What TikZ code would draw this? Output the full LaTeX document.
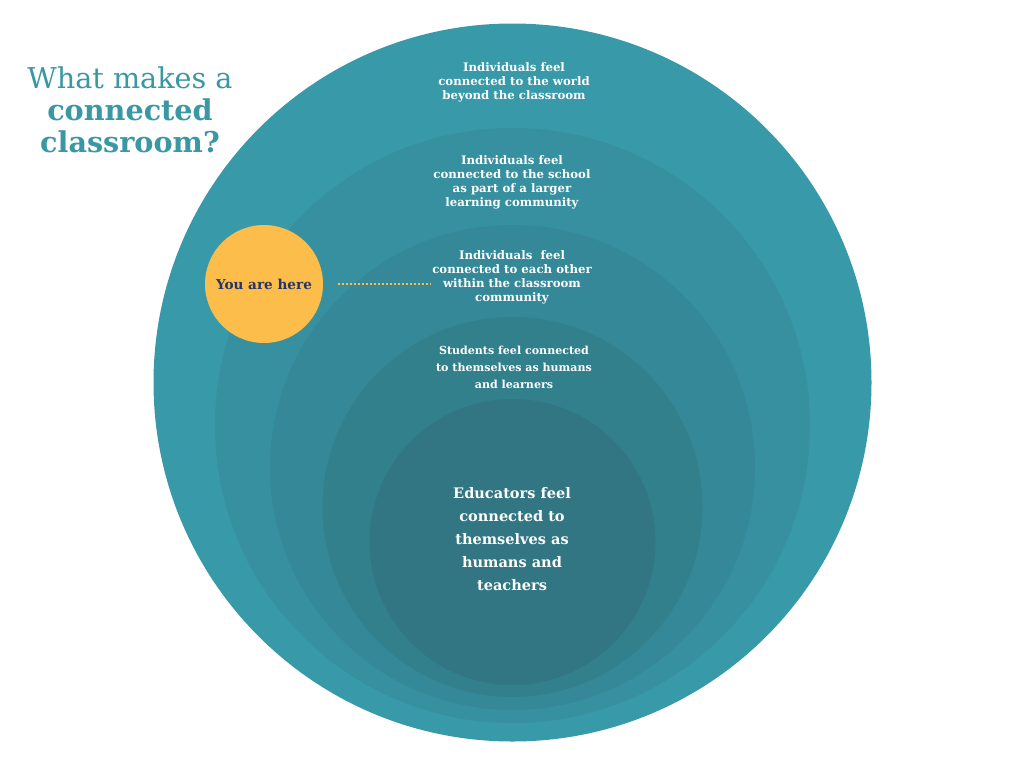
\documentclass[tikz,border=0pt]{standalone}
\usepackage{fontspec}
\setmainfont{DejaVu Serif}
\usepackage{xcolor}
\usepackage{tikz}
\usetikzlibrary{positioning, calc}
\definecolor{RingOne}{HTML}{3899A9}
\definecolor{RingTwo}{HTML}{3690A0}
\definecolor{RingThree}{HTML}{348897}
\definecolor{RingFour}{HTML}{33808D}
\definecolor{RingFive}{HTML}{317682}
\definecolor{HereYellow}{HTML}{FDBD4A}
\definecolor{HereNavy}{HTML}{24356A}
\definecolor{TitleTeal}{HTML}{3A97A4}

\begin{document}
\begin{tikzpicture}[
  x=0.75pt, y=-0.75pt,
  ringtext/.style={text=white, align=center, font=\bfseries\fontsize{8.8pt}{10.5pt}\selectfont, inner sep=0pt},
  bigtext/.style={text=white, align=center, font=\bfseries\fontsize{10.9pt}{17.25pt}\selectfont, inner sep=0pt},
  herebox/.style={circle, fill=HereYellow, minimum size=88.5pt, inner sep=0pt, text=HereNavy, font=\bfseries\fontsize{10.2pt}{12pt}\selectfont},
  dotline/.style={HereYellow, line width=1.3pt, dash pattern=on 1.4pt off 1.6pt}
  ]
  \useasboundingbox (0,0) rectangle (1024,768);
  \fill[white] (0,0) rectangle (1024,768);
  % Rings
  \fill[RingOne] (512.5,382.5) circle (359);
  \fill[RingTwo] (512.5,425.5) circle (297.5);
  \fill[RingThree] (512.5,467.5) circle (242.5);
  \fill[RingFour] (512.5,507) circle (190);
  \fill[RingFive] (512.5,542) circle (143);
  % Title
  \node[align=center, text=TitleTeal, font=\fontsize{21.5pt}{24pt}\selectfont] (title) at (130,110)
    {What makes a\\\textbf{connected}\\\textbf{classroom?}};
  % Ring labels
  \node[ringtext] (world) at (514,82) {Individuals feel\\connected to the world\\beyond the classroom};
  \node[ringtext] (school) at (512,182) {Individuals feel\\connected to the school\\as part of a larger\\learning community};
  \node[ringtext] (others) at (512,277) {Individuals\ \ feel\\connected to each other\\within the classroom\\community};
  \node[ringtext, font=\bfseries\fontsize{8.3pt}{12.75pt}\selectfont] (students) at (514,367) {Students feel connected\\to themselves as humans\\and learners};
  \node[bigtext] (educators) at (512,539) {Educators feel\\connected to\\themselves as\\humans and\\teachers};
  % You are here
  \node[herebox] (here) at (264,284) {You are here};
  \draw[dotline, shorten <=11pt, shorten >=1.5pt] (here.east) -- (others.west |- here.east);
\end{tikzpicture}
\end{document}
